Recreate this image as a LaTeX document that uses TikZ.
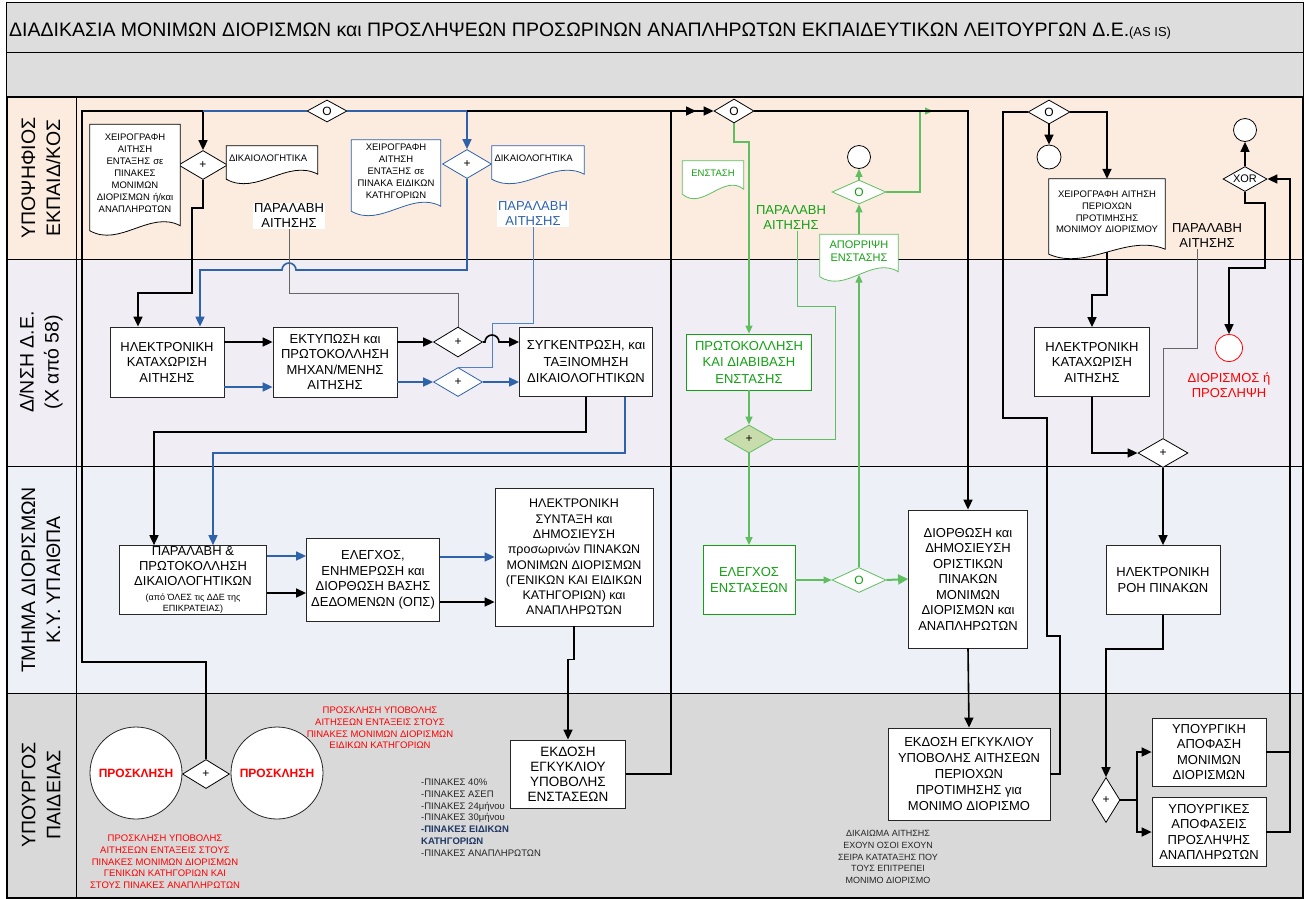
\documentclass[tikz,border=0pt]{standalone}
\usepackage{fontspec}
\setmainfont{Liberation Sans}
\usetikzlibrary{arrows.meta,shapes.geometric,calc}

\definecolor{peach}{RGB}{252,236,224}
\definecolor{lilac}{RGB}{240,238,244}
\definecolor{paleblue}{RGB}{237,240,246}
\definecolor{midgray}{RGB}{217,217,217}
\definecolor{bargray}{RGB}{221,221,221}
\definecolor{bl}{RGB}{46,98,170}
\definecolor{blt}{RGB}{80,130,200}
\definecolor{gr}{RGB}{20,160,20}
\definecolor{grl}{RGB}{95,190,95}
\definecolor{grfill}{RGB}{201,220,172}
\definecolor{darkbl}{RGB}{31,56,100}

\begin{document}
\begin{tikzpicture}[x=1pt,y=-1pt,>={Triangle[length=10pt,width=9pt]},
  box/.style={draw=black!85,line width=0.8pt,fill=white,align=center,inner sep=1pt,
    font=\fontsize{13}{15.5}\selectfont},
  gbox/.style={box,draw=gr,text=gr,font=\fontsize{13}{16.5}\selectfont},
  gate/.style={diamond,aspect=2,draw=black,line width=0.8pt,fill=white,inner sep=0pt,
    minimum width=49pt,minimum height=29pt,font=\fontsize{12}{12}\selectfont},
  dot/.style={circle,draw=black,line width=0.8pt,fill=white,inner sep=0pt,minimum size=23pt},
  inv/.style={circle,draw=black!85,line width=0.8pt,fill=white,inner sep=0pt,minimum size=92pt,
    text=red,font=\bfseries\fontsize{12}{14}\selectfont},
  doc/.style={align=center,inner sep=1pt,font=\fontsize{9.5}{12}\selectfont,
    append after command={\pgfextra{\draw[draw=#1,line width=0.8pt,fill=white]
      let \p1=(\tikzlastnode.north west),\p2=(\tikzlastnode.south east) in
      (\x1,\y1) -- (\x2,\y1) -- (\x2,{\y2-4pt})
      .. controls ({\x2-0.33*(\x2-\x1)},{\y2+12pt}) and ({\x1+0.33*(\x2-\x1)},{\y2-26pt})
      .. (\x1,{\y2-9pt}) -- cycle;}}},
  doc/.default=black,
  lbl/.style={align=center,inner sep=1pt,font=\fontsize{13}{15}\selectfont},
  note/.style={align=center,inner sep=0pt,font=\fontsize{9.5}{11.7}\selectfont},
  lane/.style={rotate=90,align=center,font=\fontsize{19.5}{25}\selectfont},
  flow/.style={line width=1.6pt,black},
  bflow/.style={line width=1.6pt,bl},
  thin/.style={line width=0.8pt,black!60},
  bthin/.style={line width=0.8pt,blt},
  gflow/.style={line width=1.2pt,grl,>={Triangle[length=8pt,width=7pt]}},
  gthin/.style={line width=0.9pt,grl}]
\useasboundingbox (0,0) rectangle (1309,898);

% frame and lanes
\draw[line width=0.8pt,fill=bargray] (6,2) rectangle (1303,52);
\draw[line width=0.8pt,fill=bargray] (6,52) rectangle (1303,97);
\fill[peach] (7,97) rectangle (1303,259);
\fill[lilac] (7,259) rectangle (1303,466);
\fill[paleblue] (7,466) rectangle (1303,693);
\fill[midgray] (7,693) rectangle (1303,898);
\draw[line width=0.8pt] (7,259) -- (1303,259) (7,466) -- (1303,466) (7,693) -- (1303,693);
\draw[line width=0.8pt] (76,97) -- (76,898);
\draw[line width=1.2pt] (7,97) rectangle (1303,898);

\node (title) [anchor=west,inner sep=0pt,font=\fontsize{19.5}{21}\selectfont] at (9,31)
  {ΔΙΑΔΙΚΑΣΙΑ ΜΟΝΙΜΩΝ ΔΙΟΡΙΣΜΩΝ και ΠΡΟΣΛΗΨΕΩΝ ΠΡΟΣΩΡΙΝΩΝ ΑΝΑΠΛΗΡΩΤΩΝ ΕΚΠΑΙΔΕΥΤΙΚΩΝ ΛΕΙΤΟΥΡΓΩΝ Δ.Ε.{\fontsize{13}{14}\selectfont(AS IS)}};

\node (h1) [lane] at (41,178) {ΥΠΟΨΗΦΙΟΣ\\ΕΚΠΑΙΔ/ΚΟΣ};
\node (h2) [lane] at (41,362) {Δ/ΝΣΗ Δ.Ε.\\(Χ από 58)};
\node (h3) [lane] at (41,580) {ΤΜΗΜΑ ΔΙΟΡΙΣΜΩΝ\\Κ.Υ. ΥΠΑΙΘΠΑ};
\node (h4) [lane] at (41,795) {ΥΠΟΥΡΓΟΣ\\ΠΑΙΔΕΙΑΣ};

% candidate lane
\node (o1) [gate,minimum width=40pt,minimum height=22pt] at (327,111) {O};
\node (p1) [gate] at (203,165) {+};
\node (d1) [doc,text width=86pt,minimum width=90pt,minimum height=97pt] at (135,173)
  {ΧΕΙΡΟΓΡΑΦΗ\\ΑΙΤΗΣΗ\\ΕΝΤΑΞΗΣ σε\\ΠΙΝΑΚΕΣ\\ΜΟΝΙΜΩΝ\\ΔΙΟΡΙΣΜΩΝ ή/και\\ΑΝΑΠΛΗΡΩΤΩΝ};
\node (d2) [doc,align=left,text width=86pt,minimum width=91pt,minimum height=24pt] at (272,158) {ΔΙΚΑΙΟΛΟΓΗΤΙΚΑ};
\node (l1) [lbl,fill=white] at (289,216) {ΠΑΡΑΛΑΒΗ\\ΑΙΤΗΣΗΣ};
\node (p2) [gate,draw=bl] at (467,164) {+};
\node (d3) [doc=bl,text width=86pt,minimum width=89pt,minimum height=62pt] at (396,171)
  {ΧΕΙΡΟΓΡΑΦΗ\\ΑΙΤΗΣΗ\\ΕΝΤΑΞΗΣ σε\\ΠΙΝΑΚΑ ΕΙΔΙΚΩΝ\\ΚΑΤΗΓΟΡΙΩΝ};
\node (d4) [doc=bl,align=left,text width=87pt,minimum width=92pt,minimum height=24pt] at (538,158) {ΔΙΚΑΙΟΛΟΓΗΤΙΚΑ};
\node (l2) [lbl,fill=white,text=bl] at (533,214) {ΠΑΡΑΛΑΒΗ\\ΑΙΤΗΣΗΣ};
\node (o2) [gate,minimum width=40pt,minimum height=24pt] at (734,111) {O};
\node (d5) [doc=grl,text=gr,minimum width=61pt,minimum height=24pt] at (713,173) {ΕΝΣΤΑΣΗ};
\node (l3) [lbl,text=gr] at (791,218) {ΠΑΡΑΛΑΒΗ\\ΑΙΤΗΣΗΣ};
\node (c1) [dot] at (859,157) {};
\node (o4) [gate,draw=grl,text=gr,minimum width=54pt,minimum height=24pt] at (859,192) {O};
\node (d6) [doc=grl,text=gr,minimum width=78pt,minimum height=33pt,font=\fontsize{11}{13}\selectfont] at (859,251)
  {ΑΠΟΡΡΙΨΗ\\ΕΝΣΤΑΣΗΣ};
\node (o3) [gate,minimum width=42pt,minimum height=24pt] at (1049,112) {O};
\node (c2) [dot,minimum size=24pt] at (1049,157) {};
\node (d7) [doc,text width=112pt,minimum width=116pt,minimum height=66pt,font=\fontsize{9.5}{11.7}\selectfont] at (1107,212)
  {ΧΕΙΡΟΓΡΑΦΗ ΑΙΤΗΣΗ\\ΠΕΡΙΟΧΩΝ\\ΠΡΟΤΙΜΗΣΗΣ\\ΜΟΝΙΜΟΥ ΔΙΟΡΙΣΜΟΥ};
\node (l4) [lbl] at (1207,236) {ΠΑΡΑΛΑΒΗ\\ΑΙΤΗΣΗΣ};
\node (xr) [gate,minimum width=44pt,minimum height=25pt,font=\fontsize{11}{11}\selectfont] at (1245,179) {XOR};
\node (c3) [dot] at (1245,130) {};

% directorate lane
\node (b1) [box,minimum width=114pt,minimum height=70pt] at (167,362) {ΗΛΕΚΤΡΟΝΙΚΗ\\ΚΑΤΑΧΩΡΙΣΗ\\ΑΙΤΗΣΗΣ};
\node (b2) [box,minimum width=124pt,minimum height=70pt] at (335,362) {ΕΚΤΥΠΩΣΗ και\\ΠΡΩΤΟΚΟΛΛΗΣΗ\\ΜΗΧΑΝ/ΜΕΝΗΣ\\ΑΙΤΗΣΗΣ};
\node (p3) [gate,minimum height=30pt] at (458,342) {+};
\node (p4) [gate,draw=bl] at (458,382) {+};
\node (b3) [box,minimum width=133pt,minimum height=69pt,font=\fontsize{13}{16.5}\selectfont] at (586,362)
  {ΣΥΓΚΕΝΤΡΩΣΗ, και\\ΤΑΞΙΝΟΜΗΣΗ\\ΔΙΚΑΙΟΛΟΓΗΤΙΚΩΝ};
\node (g1) [gbox,minimum width=125pt,minimum height=56pt] at (749,362) {ΠΡΩΤΟΚΟΛΛΗΣΗ\\ΚΑΙ ΔΙΑΒΙΒΑΣΗ\\ΕΝΣΤΑΣΗΣ};
\node (gp) [gate,draw=grl,fill=grfill,minimum height=28pt] at (749,439) {+};
\node (b4) [box,minimum width=115pt,minimum height=69pt] at (1092,362) {ΗΛΕΚΤΡΟΝΙΚΗ\\ΚΑΤΑΧΩΡΙΣΗ\\ΑΙΤΗΣΗΣ};
\node (rc) [dot,draw=red,minimum size=27pt] at (1229,348) {};
\node (l5) [lbl,text=red] at (1229,385) {ΔΙΟΡΙΣΜΟΣ ή\\ΠΡΟΣΛΗΨΗ};
\node (p5) [gate,minimum width=50pt] at (1163,453) {+};

% appointments department lane
\node (b5) [box,minimum width=147pt,minimum height=67pt,font=\fontsize{13}{15}\selectfont] at (193,580)
  {ΠΑΡΑΛΑΒΗ \&\\ΠΡΩΤΟΚΟΛΛΗΣΗ\\ΔΙΚΑΙΟΛΟΓΗΤΙΚΩΝ\\{\fontsize{9}{10}\selectfont(από ΌΛΕΣ τις ΔΔΕ της}\\[-4pt]{\fontsize{9}{10}\selectfont ΕΠΙΚΡΑΤΕΙΑΣ)}};
\node (b6) [box,minimum width=133pt,minimum height=83pt] at (373,580) {ΕΛΕΓΧΟΣ,\\ΕΝΗΜΕΡΩΣΗ και\\ΔΙΟΡΘΩΣΗ ΒΑΣΗΣ\\ΔΕΔΟΜΕΝΩΝ (ΟΠΣ)};
\node (b7) [box,minimum width=158pt,minimum height=138pt,font=\fontsize{12.5}{15.3}\selectfont] at (574,557)
  {ΗΛΕΚΤΡΟΝΙΚΗ\\ΣΥΝΤΑΞΗ και\\ΔΗΜΟΣΙΕΥΣΗ\\προσωρινών ΠΙΝΑΚΩΝ\\ΜΟΝΙΜΩΝ ΔΙΟΡΙΣΜΩΝ\\(ΓΕΝΙΚΩΝ ΚΑΙ ΕΙΔΙΚΩΝ\\ΚΑΤΗΓΟΡΙΩΝ) και\\ΑΝΑΠΛΗΡΩΤΩΝ};
\node (g2) [gbox,minimum width=92pt,minimum height=69pt] at (749,580) {ΕΛΕΓΧΟΣ\\ΕΝΣΤΑΣΕΩΝ};
\node (o5) [gate,draw=grl,text=gr,minimum width=54pt,minimum height=25pt] at (859,580) {O};
\node (b8) [box,minimum width=119pt,minimum height=138pt] at (968,579)
  {ΔΙΟΡΘΩΣΗ και\\ΔΗΜΟΣΙΕΥΣΗ\\ΟΡΙΣΤΙΚΩΝ\\ΠΙΝΑΚΩΝ\\ΜΟΝΙΜΩΝ\\ΔΙΟΡΙΣΜΩΝ και\\ΑΝΑΠΛΗΡΩΤΩΝ};
\node (b9) [box,minimum width=114pt,minimum height=69pt] at (1163,580) {ΗΛΕΚΤΡΟΝΙΚΗ\\ΡΟΗ ΠΙΝΑΚΩΝ};

% minister lane
\node (i1) [inv] at (136,773) {ΠΡΟΣΚΛΗΣΗ};
\node (p6) [gate,minimum width=47pt] at (206,774) {+};
\node (i2) [inv] at (277,773) {ΠΡΟΣΚΛΗΣΗ};
\node (t1) [note,text=red] at (165,862)
  {ΠΡΟΣΚΛΗΣΗ ΥΠΟΒΟΛΗΣ\\ΑΙΤΗΣΕΩΝ ΕΝΤΑΞΕΙΣ ΣΤΟΥΣ\\ΠΙΝΑΚΕΣ ΜΟΝΙΜΩΝ ΔΙΟΡΙΣΜΩΝ\\ΓΕΝΙΚΩΝ ΚΑΤΗΓΟΡΙΩΝ ΚΑΙ\\ΣΤΟΥΣ ΠΙΝΑΚΕΣ ΑΝΑΠΛΗΡΩΤΩΝ};
\node (t2) [note,text=red] at (380,728)
  {ΠΡΟΣΚΛΗΣΗ ΥΠΟΒΟΛΗΣ\\ΑΙΤΗΣΕΩΝ ΕΝΤΑΞΕΙΣ ΣΤΟΥΣ\\ΠΙΝΑΚΕΣ ΜΟΝΙΜΩΝ ΔΙΟΡΙΣΜΩΝ\\ΕΙΔΙΚΩΝ ΚΑΤΗΓΟΡΙΩΝ};
\node (t3) [note,align=left,anchor=north west,text=black!85] at (421,779)
  {-ΠΙΝΑΚΕΣ 40\%\\-ΠΙΝΑΚΕΣ ΑΣΕΠ\\-ΠΙΝΑΚΕΣ 24μήνου\\-ΠΙΝΑΚΕΣ 30μήνου\\{\bfseries\color{darkbl}-ΠΙΝΑΚΕΣ ΕΙΔΙΚΩΝ}\\{\bfseries\color{darkbl}ΚΑΤΗΓΟΡΙΩΝ}\\-ΠΙΝΑΚΕΣ ΑΝΑΠΛΗΡΩΤΩΝ};
\node (e1) [box,minimum width=115pt,minimum height=68pt,font=\fontsize{13.5}{15}\selectfont] at (568,774)
  {ΕΚΔΟΣΗ\\ΕΓΚΥΚΛΙΟΥ\\ΥΠΟΒΟΛΗΣ\\ΕΝΣΤΑΣΕΩΝ};
\node (e2) [box,minimum width=162pt,minimum height=92pt,font=\fontsize{13}{16}\selectfont] at (969,774)
  {ΕΚΔΟΣΗ ΕΓΚΥΚΛΙΟΥ\\ΥΠΟΒΟΛΗΣ ΑΙΤΗΣΕΩΝ\\ΠΕΡΙΟΧΩΝ\\ΠΡΟΤΙΜΗΣΗΣ για\\ΜΟΝΙΜΟ ΔΙΟΡΙΣΜΟ};
\node (t4) [note,font=\fontsize{9}{11.7}\selectfont,text=black!85] at (888,857)
  {ΔΙΚΑΙΩΜΑ ΑΙΤΗΣΗΣ\\ΕΧΟΥΝ ΟΣΟΙ ΕΧΟΥΝ\\ΣΕΙΡΑ ΚΑΤΑΤΑΞΗΣ ΠΟΥ\\ΤΟΥΣ ΕΠΙΤΡΕΠΕΙ\\ΜΟΝΙΜΟ ΔΙΟΡΙΣΜΟ};
\node (p7) [gate,minimum width=28pt,minimum height=45pt] at (1106,800) {+};
\node (y1) [box,minimum width=114pt,minimum height=68pt] at (1209,752) {ΥΠΟΥΡΓΙΚΗ\\ΑΠΟΦΑΣΗ\\ΜΟΝΙΜΩΝ\\ΔΙΟΡΙΣΜΩΝ};
\node (y2) [box,minimum width=114pt,minimum height=69pt] at (1209,832) {ΥΠΟΥΡΓΙΚΕΣ\\ΑΠΟΦΑΣΕΙΣ\\ΠΡΟΣΛΗΨΗΣ\\ΑΝΑΠΛΗΡΩΤΩΝ};

\coordinate (j1) at (696,111);
\coordinate (j2) at (933,111);
\coordinate (k1) at (1137,800);
\coordinate (k2) at (1290,752);

% connectors
\draw[flow,->] (p6.north) |- (82,662) |- (203,111) -- (p1.north);
\draw[bflow] (o1.west) -- (203,111);
\draw[bflow,->] (o1.east) -| (p2.north);
\draw[flow,->] (p2 |- o1) -- (j1);
\draw[flow,->] (e1.east) -| (671,111) -- (o2.west);
\draw[flow,->] (p1.south) -- (203,208) -| (192,293) -| ([xshift=-29pt]b1.north);
\draw[bflow,->] (p2.south) -- (467,270) -- (296,270) arc[start angle=0,end angle=180,radius=7pt] -| ([xshift=33pt]b1.north);
\draw[thin] (l1.south) |- (458,293) -- (p3.north);
\draw[bthin] (l2.south) |- (492,323) |- (p4.north);
\draw[flow,->] ([yshift=20pt]b1.east) -- ([yshift=20pt]b2.west);
\draw[bflow,->] ([yshift=-25pt]b1.east) -- ([yshift=-25pt]b2.west);
\draw[flow,->] ([yshift=20pt]b2.east) -- (p3.west);
\draw[bflow,->] ([yshift=-20pt]b2.east) -- (p4.west);
\draw[flow,->] (p3.east) -- (485,342) arc[start angle=180,end angle=0,radius=7pt] -- ([yshift=20pt]b3.west);
\draw[bflow,->] (p4.east) -- ([yshift=-20pt]b3.west);
\draw[flow,->] (b3.south) |- (154,432) -- ([xshift=-39pt]b5.north);
\draw[bflow,->] ([xshift=39pt]b3.south) |- (213,453) -- ([xshift=20pt]b5.north);
\draw[bflow,->] ([yshift=24pt]b5.east) -- ([yshift=24pt]b6.west);
\draw[flow,->] ([yshift=-13pt]b5.east) -- ([yshift=-13pt]b6.west);
\draw[bflow,->] ([yshift=23pt]b6.east) -- (b7.west |- 0,557);
\draw[flow,->] ([yshift=-22pt]b6.east) -- (b7.west |- 0,602);
\draw[flow,->] (b7.south) -- ++(0,33) -| (e1.north);

\draw[gflow,->] (o2.south) |- (749,142) -- (g1.north);
\draw[gflow,->] (g1.south) -- (gp.north);
\draw[gflow,->] (gp.south) -- (g2.north);
\draw[gthin] ([xshift=6pt]l3.south) |- (835,306) |- (gp.east);
\draw[gflow,->] (g2.east) -- (o5.west);
\draw[gflow,line width=2pt,>={Triangle[length=10pt,width=10pt]},->] (o5.east) -- (b8.west);
\draw[gflow,->] (o5.north) -- ([yshift=-7pt]d6.south);
\draw[gflow,->] (d6.north) -- (o4.south);
\draw[gflow,->] (o4.north) -- (c1.south);
\draw[gflow,->] (o4.east) -| (920,111) -- (j2);
\draw[flow,->] (o2.east) -| (b8.north);
\draw[flow,->] (b8.south) -- (e2.north);

\draw[flow] (e2.east) -| (1060,636) -| (1047,418) -| (1003,112) -- (o3.west);
\draw[flow,->] (o3.south) -- (c2.north);
\draw[flow,->] (o3.east) -| (d7.north);
\draw[flow,->] ([yshift=-7pt]d7.south) -- (1107,295) -| (b4.north);
\draw[thin] ([xshift=-10pt]l4.south) |- (1163,348) -- (p5.north);
\draw[flow,->] (b4.south) |- (p5.west);
\draw[flow,->] (p5.south) -- (b9.north);
\draw[flow,->] (b9.south) -- ++(0,34) -| (p7.north);
\draw[flow] (p7.east) -- (k1);
\draw[flow,->] (k1) |- (y1.west);
\draw[flow,->] (k1) |- (y2.west);
\draw[flow] (y1.east) -- (k2);
\draw[flow,->] (y2.east) -| (1290,179) -- (xr.east);
\draw[flow,->] (xr.north) -- (c3.south);
\draw[flow,->] (xr.south) |- (1265,203) |- (1229,268) -- (rc.north);
\end{tikzpicture}
\end{document}
